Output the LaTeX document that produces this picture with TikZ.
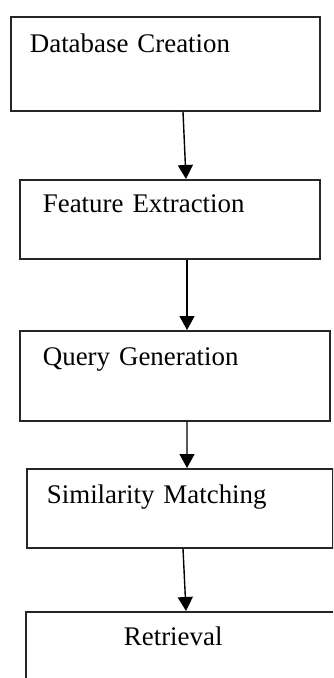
\documentclass[tikz,border=0pt]{standalone}
\usepackage{fontspec}
\setmainfont{Liberation Serif}
\usetikzlibrary{
  arrows.meta
}

\begin{document}
\begin{tikzpicture}[
  x=1bp, y=-1bp,
  every node/.style = {shape=rectangle, draw=black!85, line width=1.8bp,
    anchor=north west, inner ysep=0pt, align=left,
    font=\fontsize{27}{30}\selectfont},
  flow/.style = {draw=black, line width=1.4bp,
    -{Triangle[width=15bp,length=14bp]}}]
  \clip (0,0) rectangle (333,678);
  % the five stages, top to bottom
  \node (db) at (10,16)  [inner xsep=19bp, text width=271bp,
    text height=36bp, text depth=58bp] {Database Creation};
  \node (fe) at (19,179) [inner xsep=23bp, text width=254bp,
    text height=33bp, text depth=46bp] {Feature Extraction};
  \node (qg) at (19,330) [inner xsep=23bp, text width=264bp,
    text height=35bp, text depth=55bp] {Query Generation};
  \node (sm) at (26,468) [inner xsep=20bp, text width=266bp,
    text height=35bp, text depth=44bp] {Similarity Matching};
  \node (rt) at (25,611) [inner xsep=98bp, text width=134bp,
    text height=34bp, text depth=60bp] {Retrieval};
  % links
  \draw[flow] ([xshift=173bp]db.south west) -- ([xshift=167bp]fe.north west);
  \draw[flow] ([xshift=168bp]fe.south west) -- ([xshift=168bp]qg.north west);
  \draw[flow] ([xshift=168bp]qg.south west) -- ([xshift=161bp]sm.north west);
  \draw[flow] ([xshift=157bp]sm.south west) -- ([xshift=161bp]rt.north west);
\end{tikzpicture}
\end{document}
